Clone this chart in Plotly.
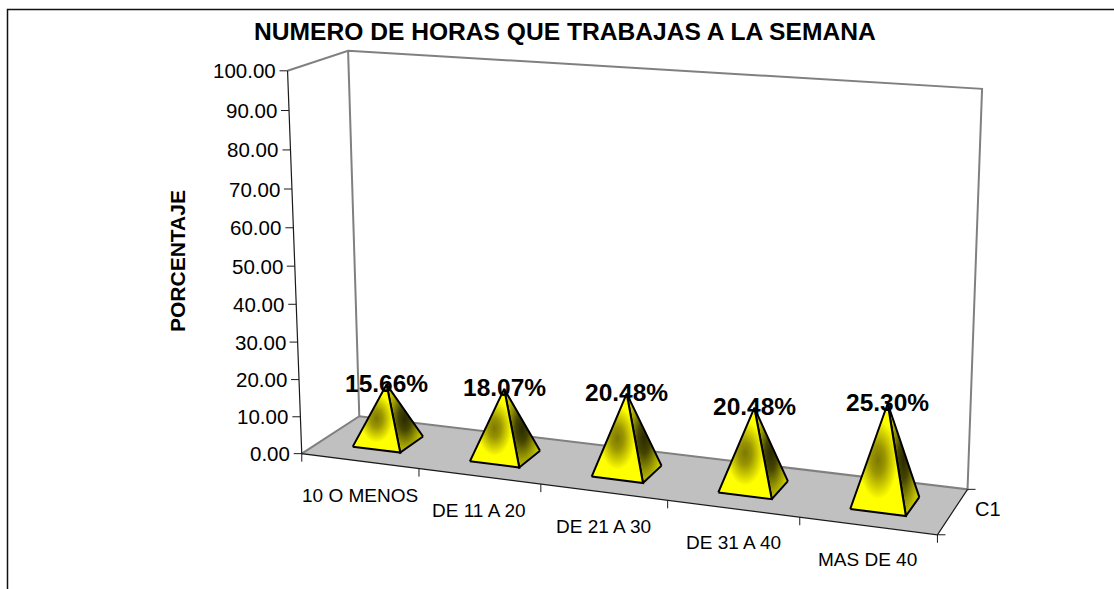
import numpy as np
import plotly.graph_objects as go

# ---------- data ----------
CATEGORIES = ["10 O MENOS", "DE 11 A 20", "DE 21 A 30", "DE 31 A 40", "MAS DE 40"]
VALUES = [15.66, 18.07, 20.48, 20.48, 25.30]
VALUE_LABELS = ["15.66%", "18.07%", "20.48%", "20.48%", "25.30%"]
Y_TICKS = [0, 10, 20, 30, 40, 50, 60, 70, 80, 90, 100]
Y_TICK_LABELS = ["0.00", "10.00", "20.00", "30.00", "40.00", "50.00", "60.00", "70.00", "80.00", "90.00", "100.00"]
SERIES_NAME = "C1"
TITLE = "NUMERO DE HORAS QUE TRABAJAS A LA SEMANA"
Y_TITLE = "PORCENTAJE"

# ---------- 3D axes -> page projection (calibrated on the chart box) ----------
# (category position, value, depth) -> page pixel
CALIB = [
    ((0, 0, 0), (302, 453)), ((0, 100, 0), (288, 70)),
    ((0, 0, 1), (359, 417)), ((0, 100, 1), (348, 51)),
    ((5, 0, 1), (968, 488)), ((5, 100, 1), (982, 89)),
    ((5, 0, 0), (937, 536)),
    ((0, 50, 0), (295, 267)), ((0, 20, 0), (299, 379)), ((0, 80, 0), (290, 150)),
]
A = []
for (u, v, w), (px, py) in CALIB:
    A.append([u, v, w, 1, 0, 0, 0, 0, -px * u, -px * v, -px * w, -px])
    A.append([0, 0, 0, 0, u, v, w, 1, -py * u, -py * v, -py * w, -py])
_, _, Vt = np.linalg.svd(np.array(A, float))
P = Vt[-1].reshape(3, 4)


def proj(u, v, w):
    h = P @ np.array([u, v, w, 1.0])
    return h[0] / h[2], h[1] / h[2]


def poly(*pts):
    xs = [p[0] for p in pts] + [pts[0][0]]
    ys = [p[1] for p in pts] + [pts[0][1]]
    return xs, ys


fig = go.Figure()


def line(pts, color, width):
    fig.add_trace(go.Scatter(x=[p[0] for p in pts], y=[p[1] for p in pts], mode="lines", hoverinfo="skip",
                             line=dict(color=color, width=width), showlegend=False))


n = len(CATEGORIES)
GRAY = "#808080"
DARK = "#1a1a1a"

# chart frame (open on the right and bottom)
fig.add_trace(go.Scatter(x=[7.5, 7.5, 1114], y=[589, 9.5, 9.5], mode="lines", hoverinfo="skip",
                         line=dict(color="#111111", width=1.5), showlegend=False))

# floor
xs, ys = poly(proj(0, 0, 0), proj(n, 0, 0), proj(n, 0, 1), proj(0, 0, 1))
fig.add_trace(go.Scatter(x=xs, y=ys, mode="lines", fill="toself", fillcolor="#C0C0C0",
                         line=dict(color="rgba(0,0,0,0)", width=0), hoverinfo="skip", showlegend=False))
# walls
line([proj(0, 0, 0), proj(0, 0, 1), proj(n, 0, 1), proj(n, 100, 1), proj(0, 100, 1), proj(0, 100, 0)], GRAY, 2)
line([proj(0, 100, 1), proj(0, 0, 1)], GRAY, 2)
# axes
line([proj(0, 100, 0), proj(0, 0, 0), proj(n, 0, 0), proj(n, 0, 1)], DARK, 1.2)

# ticks
for t in Y_TICKS:
    x, y = proj(0, t, 0)
    line([(x - 8, y), (x, y)], DARK, 1)
for i in range(n + 1):
    x, y = proj(i, 0, 0)
    line([(x, y), (x, y + 8)], DARK, 1)
for w in [0, 1]:
    x, y = proj(n, 0, w)
    line([(x, y), (x + 8, y)], DARK, 1)

# pyramids
HALF_U = 0.205
HALF_W = 0.21
for i, val in enumerate(VALUES):
    c = i + 0.5
    apex = proj(c, val, 0.5)
    fl = proj(c - HALF_U, 0, 0.5 - HALF_W)
    fr = proj(c + HALF_U, 0, 0.5 - HALF_W)
    br = proj(c + HALF_U, 0, 0.5 + HALF_W)
    xs, ys = poly(br, fr, apex)
    fig.add_trace(go.Scatter(x=xs, y=ys, mode="lines", fill="toself", hoverinfo="skip", showlegend=False,
                             fillgradient=dict(type="radial",
                                               colorscale=[[0, "#2a2a00"], [0.35, "#454500"], [0.75, "#9a9a00"], [1, "#c4c400"]]),
                             line=dict(color="black", width=2)))
    xs, ys = poly(fl, fr, apex)
    fig.add_trace(go.Scatter(x=xs, y=ys, mode="lines", fill="toself", hoverinfo="skip", showlegend=False,
                             fillgradient=dict(type="radial",
                                               colorscale=[[0, "#7d7900"], [0.25, "#9a9500"], [0.7, "#ffff00"], [1, "#ffff00"]]),
                             line=dict(color="black", width=2)))

ann = []
FONT = "Liberation Sans, Arial, sans-serif"


def text(x, y, s, size, bold=False, xanchor="center", angle=0):
    ann.append(dict(x=x, y=y, text=f"<b>{s}</b>" if bold else s, showarrow=False, xanchor=xanchor, yanchor="middle",
                    textangle=angle, xref="x", yref="y", borderpad=0, borderwidth=0,
                    font=dict(family=FONT, size=size, color="black")))


for t, lab in zip(Y_TICKS, Y_TICK_LABELS):
    x, y = proj(0, t, 0)
    text(x - 12, y, lab, 20.5, xanchor="right")
for i, lab in enumerate(CATEGORIES):
    x, y = proj(i + 0.5, 0, 0)
    text(x, y + 34, lab, 19)
x, y = proj(n, 0, 0.5)
text(x + 22, y - 2, SERIES_NAME, 20, xanchor="left")
for i, (val, lab) in enumerate(zip(VALUES, VALUE_LABELS)):
    x, y = proj(i + 0.5, val, 0.5)
    text(x, y - 1, lab, 24.5, bold=True)
text(565, 31, TITLE, 24.6, bold=True)
text(177, 261, Y_TITLE, 21, bold=True, angle=-90)

fig.update_layout(
    width=1114, height=589, margin=dict(l=0, r=0, t=0, b=0),
    paper_bgcolor="white", plot_bgcolor="white", showlegend=False, annotations=ann,
    xaxis=dict(range=[0, 1114], visible=False, fixedrange=True),
    yaxis=dict(range=[589, 0], visible=False, fixedrange=True),
)
fig.write_html("out.html", config={"displayModeBar": False},
               post_script="document.body.style.margin='0';document.body.style.overflow='hidden';")
